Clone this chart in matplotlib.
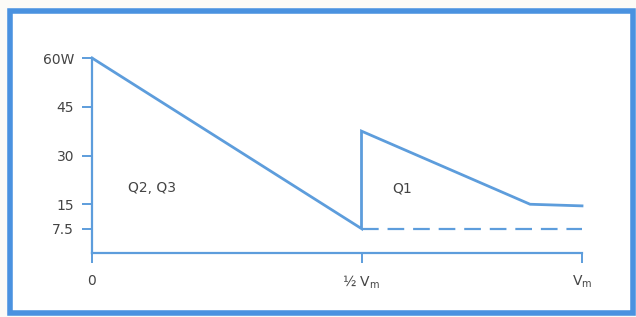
import matplotlib.pyplot as plt
from matplotlib.patches import Rectangle

# ---- Data ----
# x positions as drawn on the (schematic) voltage axis, y in watts
solid_x = [0.0, 0.55, 0.55, 0.894, 1.0]
solid_y = [60.0, 7.5, 37.5, 15.0, 14.5]
dash_x = [0.55, 1.0]
dash_y = [7.5, 7.5]

y_ticks = [7.5, 15, 30, 45, 60]
y_labels = ["7.5", "15", "30", "45", "60W"]
x_ticks = [0, 0.55, 1.0]
x_labels = ["0", "½ V$_\\mathrm{m}$", "V$_\\mathrm{m}$"]

regions = ["Q2, Q3", "Q1"]
region_x = [0.122, 0.633]
region_y = [20, 20]

BLUE = "#5d9ddc"
TEXT = "#444444"

fig = plt.figure(figsize=(6.36, 3.17), dpi=100)
fig.patch.set_facecolor("#fcfbf7")

# frame around the chart
frame = Rectangle((10 / 636, 4 / 317), 623 / 636, 302 / 317, transform=fig.transFigure,
                  facecolor="white", edgecolor="#4a92e0", linewidth=4, zorder=-10)
fig.patches.append(frame)

ax = fig.add_axes([92 / 636, 64 / 317, 490 / 636, 195 / 317])
ax.set_facecolor("none")
ax.set_zorder(5)

ax.plot(solid_x, solid_y, color=BLUE, lw=2.0, clip_on=False, solid_joinstyle="miter")
ax.plot(dash_x, dash_y, color=BLUE, lw=1.6, ls=(0, (7.5, 4)), clip_on=False)

for name, tx, ty in zip(regions, region_x, region_y):
    ax.text(tx, ty, name, color=TEXT, fontsize=10, ha="center", va="center")

ax.set_xlim(0, 1)
ax.set_ylim(0, 60)
ax.set_xticks(x_ticks)
ax.set_xticklabels(x_labels)
ax.set_yticks(y_ticks)
ax.set_yticklabels(y_labels)

for s in ["top", "right"]:
    ax.spines[s].set_visible(False)
for s in ["left", "bottom"]:
    ax.spines[s].set_color(BLUE)
    ax.spines[s].set_linewidth(1.6)
ax.spines["left"].set_bounds(0, 60)
ax.spines["bottom"].set_bounds(0, 1)

ax.tick_params(axis="both", colors=BLUE, labelcolor=TEXT, labelsize=10,
               length=7, width=1.4)
ax.tick_params(axis="y", pad=6)
ax.tick_params(axis="x", pad=8)

fig.savefig("out.png", dpi=100)
